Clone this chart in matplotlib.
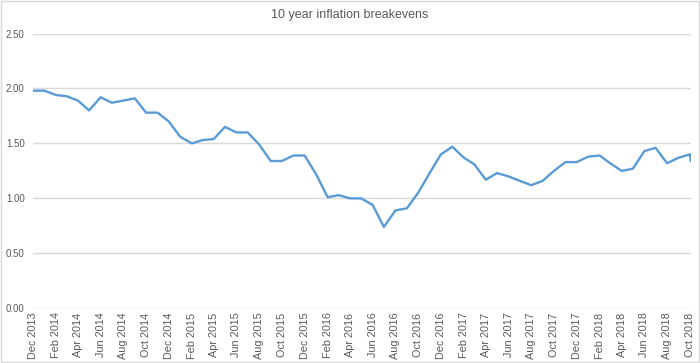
import matplotlib.pyplot as plt
import matplotlib.dates as mdates
import pandas as pd
from matplotlib.patches import Rectangle

# monthly 10y breakevens, Dec 2013 .. Oct 2018, plus one early-October reading
dates = list(pd.date_range('2013-12-01', '2018-10-01', freq='MS')) + [pd.Timestamp('2018-10-04')]
values = [
    1.98,
    1.98, 1.94, 1.93, 1.89, 1.80, 1.92, 1.87, 1.89, 1.91, 1.78, 1.78, 1.70,
    1.56, 1.50, 1.53, 1.54, 1.65, 1.60, 1.60, 1.49, 1.34, 1.34, 1.39, 1.39,
    1.22, 1.01, 1.03, 1.00, 1.00, 0.94, 0.74, 0.89, 0.91, 1.05, 1.23, 1.40,
    1.47, 1.37, 1.31, 1.17, 1.23, 1.20, 1.16, 1.12, 1.16, 1.25, 1.33, 1.33,
    1.38, 1.39, 1.32, 1.25, 1.27, 1.43, 1.46, 1.32, 1.37, 1.40,
    1.34,
]
yticks = [0, 0.5, 1.0, 1.5, 2.0, 2.5]
title = '10 year inflation breakevens'

plt.rcParams.update({
    'font.family': ['Liberation Sans', 'DejaVu Sans'],
    'font.size': 8,
})
grey = '#595959'

fig = plt.figure(figsize=(7.0, 3.63), dpi=100)
ax = fig.add_axes([0.047, 0.1507, 0.94, 0.757])
ax.plot(dates, values, color='#5b9bd5', linewidth=1.7, solid_joinstyle='round')

ax.set_ylim(0, 2.5)
ax.set_yticks(yticks)
ax.set_yticklabels([f'{v:.2f}' for v in yticks])
ax.set_xlim(pd.Timestamp('2013-12-01'), pd.Timestamp('2018-10-04'))
ax.xaxis.set_major_locator(mdates.MonthLocator(bymonth=[2, 4, 6, 8, 10, 12]))
ax.xaxis.set_major_formatter(mdates.DateFormatter('%b %Y'))
for lab in ax.get_xticklabels():
    lab.set_rotation(90)

ax.grid(axis='y', color='#d9d9d9', linewidth=1)
ax.set_axisbelow(True)
for s in ax.spines.values():
    s.set_visible(False)
ax.tick_params(axis='both', length=0, colors=grey)
ax.tick_params(axis='y', pad=6, labelsize=7)
ax.tick_params(axis='x', pad=3, labelsize=7.8)

fig.text(0.5, 0.96, title, ha='center', va='center', fontsize=9, color=grey)
fig.patches.append(Rectangle((0.001, 0.002), 0.997, 0.995, transform=fig.transFigure,
                             fill=False, edgecolor='#d9d9d9', linewidth=1))

fig.savefig('out.png', dpi=100)
